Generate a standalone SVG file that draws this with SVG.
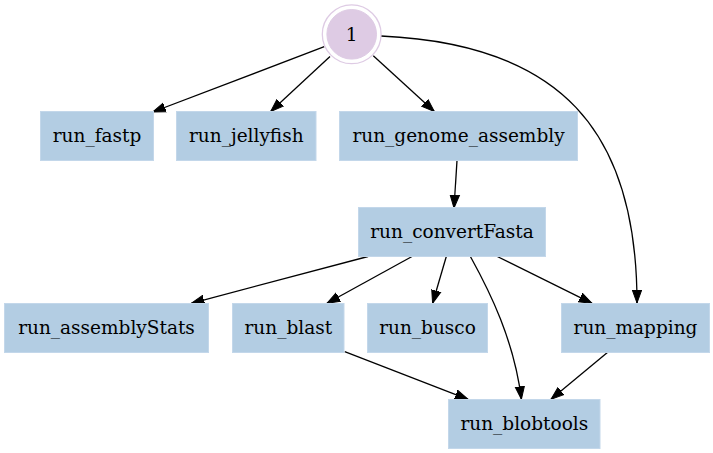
<svg xmlns="http://www.w3.org/2000/svg" width="713" height="453" viewBox="0 0 713 453">
<style>
.box{fill:#b3cde3;stroke:#c3d7ea;stroke-width:1}
.lbl{font-family:"DejaVu Serif",serif;font-size:18.5px;fill:#000;text-anchor:middle}
.edge{fill:none;stroke:#000;stroke-width:1.3;marker-end:url(#ah)}
</style>
<defs>
<marker id="ah" markerUnits="userSpaceOnUse" markerWidth="15" markerHeight="12" viewBox="0 -6 15 12" refX="13" refY="0" orient="auto">
<path d="M0,-4.7 L13,0 L0,4.7 z" fill="#000" stroke="#000" stroke-width="1"/>
</marker>
</defs>
<rect width="713" height="453" fill="#fff"/>
<g id="connectors">
<path class="edge" d="M324.3,46.7 L152.7,112"/>
<path class="edge" d="M330,56.5 L270.7,111.5"/>
<path class="edge" d="M373.3,55.7 L434.3,111.5"/>
<path class="edge" d="M381,36 C560,44 637,130 637,303"/>
<path class="edge" d="M457,160.3 L454,208"/>
<path class="edge" d="M368,256.5 L191.3,303.3"/>
<path class="edge" d="M412,256.5 L327,303.3"/>
<path class="edge" d="M446.3,256.5 L432.6,303.3"/>
<path class="edge" d="M470.4,256.5 C490,292 514,340 521.4,399.3"/>
<path class="edge" d="M497.3,256.5 L592,303.3"/>
<path class="edge" d="M344.7,351.7 L468,399.3"/>
<path class="edge" d="M608,352 L551,399.3"/>
</g>
<g id="node1">
<circle cx="351.7" cy="34.3" r="29.4" fill="none" stroke="#decbe4" stroke-width="1.3"/>
<circle cx="351.7" cy="34.3" r="24.8" fill="#decbe4" stroke="#decbe4"/>
<text class="lbl" x="351.7" y="40.5">1</text>
</g>
<g id="run_fastp"><rect class="box" x="40.5" y="111.5" width="113" height="49"/><text class="lbl" x="97" y="141.5">run_fastp</text></g>
<g id="run_jellyfish"><rect class="box" x="176.5" y="111.5" width="139.5" height="49"/><text class="lbl" x="246.3" y="141.5">run_jellyfish</text></g>
<g id="run_genome_assembly"><rect class="box" x="339.5" y="111.5" width="238" height="49"/><text class="lbl" x="458.5" y="141.5">run_genome_assembly</text></g>
<g id="run_convertFasta"><rect class="box" x="358.5" y="207.5" width="187" height="49"/><text class="lbl" x="452" y="237.5">run_convertFasta</text></g>
<g id="run_assemblyStats"><rect class="box" x="4.5" y="303.5" width="204" height="49"/><text class="lbl" x="106.5" y="333.5">run_assemblyStats</text></g>
<g id="run_blast"><rect class="box" x="232.5" y="303.5" width="111.5" height="49"/><text class="lbl" x="288.3" y="333.5">run_blast</text></g>
<g id="run_busco"><rect class="box" x="367.5" y="303.5" width="120" height="49"/><text class="lbl" x="427.5" y="333.5">run_busco</text></g>
<g id="run_mapping"><rect class="box" x="561.5" y="303.5" width="148" height="49"/><text class="lbl" x="635.5" y="333.5">run_mapping</text></g>
<g id="run_blobtools"><rect class="box" x="448.5" y="399.5" width="151.5" height="49"/><text class="lbl" x="524.3" y="429.5">run_blobtools</text></g>
</svg>
